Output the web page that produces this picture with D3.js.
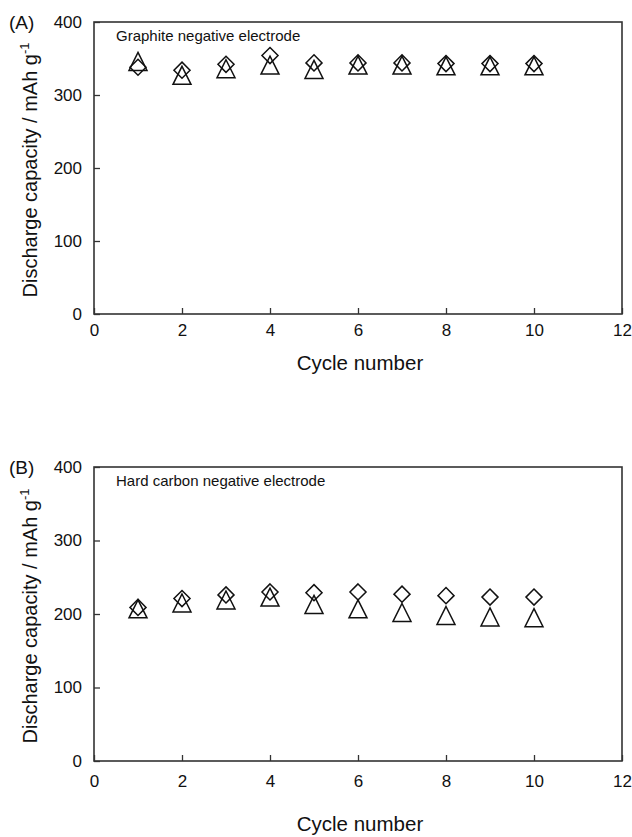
<!DOCTYPE html>
<html>
<head>
<meta charset="utf-8">
<script src="https://cdn.jsdelivr.net/npm/d3@7"></script>
<style>
  body { margin: 0; background: #fff; }
  svg { font-family: "Liberation Sans", Arial, sans-serif; }
</style>
</head>
<body>
<div id="chart"></div>
<script>
// data
const cycles = [1, 2, 3, 4, 5, 6, 7, 8, 9, 10];
const graphiteDiamond  = [338, 334, 342, 354, 344, 344, 344, 343, 343, 343];
const graphiteTriangle = [346, 327, 336, 341, 335, 341, 341, 340, 340, 340];
const hardDiamond  = [209, 221, 226, 230, 229, 230, 227, 225, 223, 223];
const hardTriangle = [207, 215, 219, 223, 213, 207, 202, 198, 196, 195];
const xTicks = [0, 2, 4, 6, 8, 10, 12];
const yTicks = [0, 100, 200, 300, 400];

const width = 632, height = 837;
const left = 94, right = 622;

const svg = d3.select('#chart').append('svg')
  .attr('width', width)
  .attr('height', height);

const x = d3.scaleLinear().domain([0, 12]).range([left, right]);

function panel(top, plotH, labPad, titleOff, tag, note, diamonds, triangles) {
  const y = d3.scaleLinear().domain([0, 400]).range([top + plotH, top]);
  const g = svg.append('g');

  // x axis (ticks point inward)
  const xa = g.append('g')
    .attr('transform', 'translate(0,' + (top + plotH) + ')')
    .call(d3.axisBottom(x).tickValues(xTicks).tickSize(-6).tickPadding(labPad));
  xa.select('.domain').remove();
  xa.selectAll('text').attr('font-size', 17).attr('fill', '#111');
  xa.selectAll('line').attr('stroke', '#333').attr('stroke-width', 1.3);

  const ya = g.append('g')
    .attr('transform', 'translate(' + left + ',0)')
    .call(d3.axisLeft(y).tickValues(yTicks).tickSize(-6).tickPadding(12));
  ya.select('.domain').remove();
  ya.selectAll('text').attr('font-size', 17).attr('fill', '#111');
  ya.selectAll('line').attr('stroke', '#333').attr('stroke-width', 1.3);

  // frame
  g.append('rect')
    .attr('x', left).attr('y', top)
    .attr('width', right - left).attr('height', plotH)
    .attr('fill', 'none').attr('stroke', '#333').attr('stroke-width', 1.6);

  g.append('text')
    .attr('x', 9).attr('y', top + 7)
    .attr('font-size', 19).attr('fill', '#111')
    .text(tag);

  g.append('text')
    .attr('x', left + 22).attr('y', top + 19)
    .attr('font-size', 15).attr('fill', '#111')
    .text(note);

  // axis titles
  g.append('text')
    .attr('x', (left + right) / 2 + 2).attr('y', top + plotH + titleOff)
    .attr('text-anchor', 'middle')
    .attr('font-size', 20.5).attr('fill', '#111')
    .text('Cycle number');

  const yt = g.append('text')
    .attr('transform', 'translate(37,' + (top + plotH / 2 + 2) + ') rotate(-90)')
    .attr('text-anchor', 'middle')
    .attr('font-size', 20).attr('fill', '#111');
  yt.append('tspan').text('Discharge capacity / mAh g');
  yt.append('tspan').attr('dy', -8).attr('font-size', 13).text('-1');

  // diamonds
  g.append('g').selectAll('path')
    .data(diamonds)
    .enter().append('path')
      .attr('d', d3.symbol().type(d3.symbolDiamond2).size(165))
      .attr('transform', (d, i) => 'translate(' + x(cycles[i]) + ',' + y(d) + ')')
      .attr('fill', 'none').attr('stroke', '#111').attr('stroke-width', 1.5);

  // triangles
  g.append('g').selectAll('path')
    .data(triangles)
    .enter().append('path')
      .attr('d', 'M0,-9L9,9L-9,9Z')
      .attr('transform', (d, i) => 'translate(' + x(cycles[i]) + ',' + y(d) + ')')
      .attr('fill', 'none').attr('stroke', '#111').attr('stroke-width', 1.5);
}

panel(22, 292, 10, 56, '(A)', 'Graphite negative electrode', graphiteDiamond, graphiteTriangle);
panel(467, 294, 14, 70, '(B)', 'Hard carbon negative electrode', hardDiamond, hardTriangle);
</script>
</body>
</html>
